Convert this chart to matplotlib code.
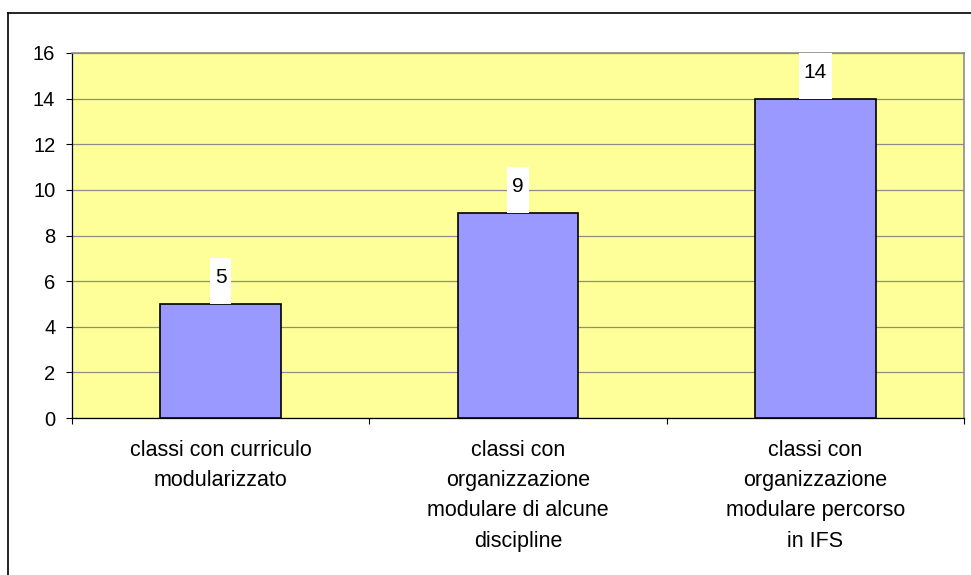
import matplotlib.pyplot as plt
from matplotlib.lines import Line2D
from matplotlib.patches import Rectangle
from matplotlib.transforms import IdentityTransform

categories = ["classi con curriculo\nmodularizzato",
              "classi con\norganizzazione\nmodulare di alcune\ndiscipline",
              "classi con\norganizzazione\nmodulare percorso\nin IFS"]
values = [5, 9, 14]
yticks = [0, 2, 4, 6, 8, 10, 12, 14, 16]

plt.rcParams['font.family'] = ['Liberation Sans', 'DejaVu Sans']

fig = plt.figure(figsize=(9.71, 5.75), dpi=100)
ax = fig.add_axes([72/971, 1-418/575, (964-72)/971, (418-53)/575])
ax.set_facecolor('#FFFF99')

pos = list(range(len(values)))
ax.bar(pos, values, width=0.405, color='#9999FF', edgecolor='black', linewidth=1.2, zorder=3)

ax.set_xlim(-0.5, len(values)-0.5)
ax.set_ylim(0, 16)
ax.set_yticks(yticks)
ax.grid(axis='y', color='#8c8c8c', linewidth=0.9, zorder=0)
ax.set_axisbelow(True)

ax.set_xticks(pos)
ax.set_xticklabels(categories, fontsize=15.5, linespacing=1.57, va='top')
ax.set_xticks([p - 0.5 for p in pos] + [pos[-1] + 0.5], minor=True)
ax.tick_params(axis='x', which='major', length=0, pad=16)
ax.tick_params(axis='x', which='minor', length=4, direction='out', width=0.8)
ax.tick_params(axis='y', length=4, width=0.8, pad=8, labelsize=14.5)

for s in ['top', 'right']:
    ax.spines[s].set_color('#8c8c8c')
    ax.spines[s].set_linewidth(1.2)
for s in ['left', 'bottom']:
    ax.spines[s].set_color('black')
    ax.spines[s].set_linewidth(0.9)

# data labels with white boxes
texts = []
for p, v in zip(pos, values):
    t = ax.annotate(str(v), (p, v), xytext=(0, 19), textcoords='offset points',
                    ha='center', va='center', fontsize=15, zorder=6,
                    annotation_clip=False)
    texts.append(t)

fig.canvas.draw()
r = fig.canvas.get_renderer()
for t, p, v in zip(texts, pos, values):
    bb = t.get_window_extent(r)
    x0, ybar = ax.transData.transform((p, v))
    w = bb.width + 10
    rect = Rectangle((x0 - w/2, ybar), w, 46, transform=IdentityTransform(),
                     facecolor='white', edgecolor='none', zorder=5, clip_on=False)
    ax.add_artist(rect)

# outer frame (left and top visible)
fig.add_artist(Line2D([8/971, 8/971], [0, 1-13/575], color='black', linewidth=1.2))
fig.add_artist(Line2D([8/971, 1], [1-13/575, 1-13/575], color='black', linewidth=1.2))

fig.savefig('out.png', dpi=100)
